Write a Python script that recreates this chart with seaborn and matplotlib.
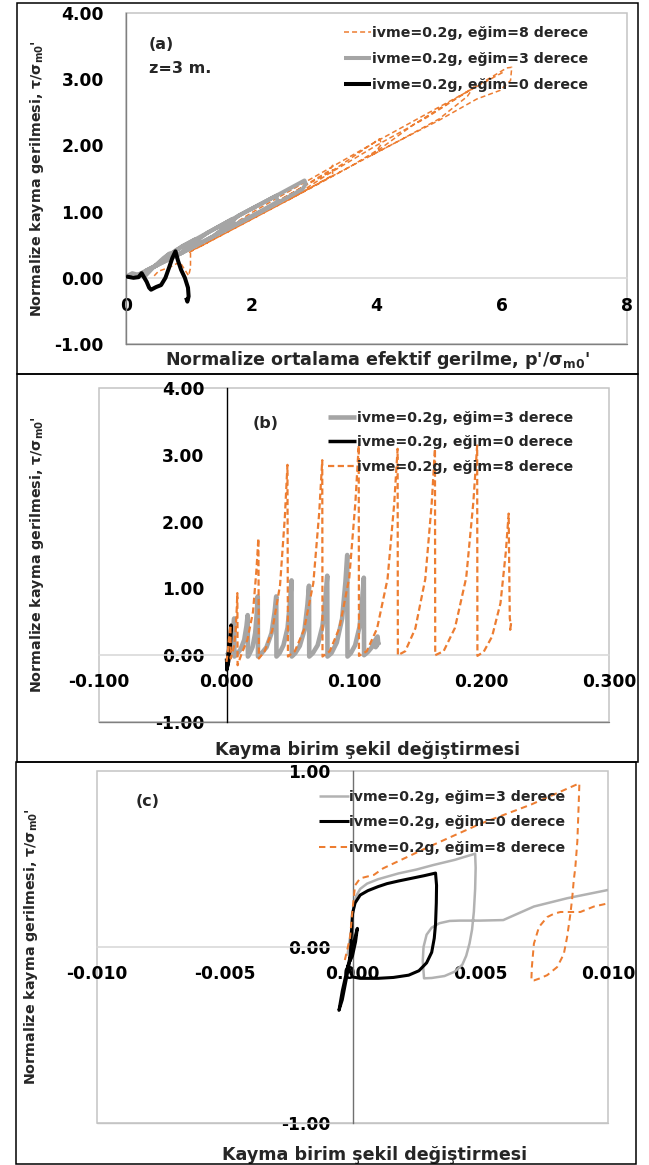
import numpy as np
import pandas as pd
import matplotlib
matplotlib.use('Agg')
import matplotlib.pyplot as plt
import seaborn as sns
from matplotlib.patches import Rectangle
from matplotlib.ticker import FormatStrFormatter

# ---------------- data ----------------
labels = {8: 'ivme=0.2g, eğim=8 derece', 3: 'ivme=0.2g, eğim=3 derece', 0: 'ivme=0.2g, eğim=0 derece'}

# panel (a): stress path  p'/sigma_m0'  vs  tau/sigma_m0'
a8_p = [0.45, 0.52, 0.70, 0.86, 0.94, 1.00, 1.03, 1.03, 1.40, 2.00, 2.60, 3.25, 3.30, 3.30, 3.00, 2.50, 2.00, 1.50, 1.20,
        1.60, 2.40, 3.30, 4.05, 4.08, 4.00, 3.60, 3.00, 2.60, 3.20, 4.00, 4.80, 5.50, 5.55, 5.45, 5.00, 4.40, 3.90,
        4.60, 5.30, 6.08, 6.16, 6.14, 5.97, 5.60, 5.00, 4.40, 3.80, 3.20, 2.60, 2.00, 1.50, 1.10, 1.00,
        2.00, 3.00, 4.00, 5.00, 6.05]
a8_t = [0.03, 0.10, 0.16, 0.24, 0.12, 0.03, 0.15, 0.40, 0.60, 0.92, 1.25, 1.62, 1.70, 1.55, 1.39, 1.13, 0.88, 0.63, 0.48,
        0.72, 1.15, 1.62, 2.10, 2.02, 1.92, 1.69, 1.38, 1.18, 1.55, 2.00, 2.42, 2.84, 2.88, 2.74, 2.40, 2.09, 1.84,
        2.32, 2.73, 3.17, 3.18, 2.98, 2.83, 2.70, 2.38, 2.09, 1.79, 1.49, 1.18, 0.88, 0.63, 0.43, 0.38,
        0.98, 1.52, 2.06, 2.58, 3.12]
a3_p = [0.00, 0.10, 0.30, 0.45, 0.60, 0.70, 0.50, 0.30, 0.20, 0.50, 0.90, 1.10, 1.12, 0.90, 0.60, 0.45, 0.80, 1.30,
        1.70, 1.72, 1.40, 1.00, 0.85, 1.30, 1.90, 2.40, 2.42, 2.10, 1.70, 1.40, 1.80, 2.40, 2.85, 2.87, 2.82, 2.40,
        1.90, 1.40, 0.90, 0.50, 0.30]
a3_t = [0.02, 0.07, 0.02, 0.17, 0.30, 0.37, 0.19, 0.09, 0.05, 0.20, 0.48, 0.58, 0.52, 0.38, 0.24, 0.17, 0.42, 0.68,
        0.89, 0.84, 0.63, 0.43, 0.36, 0.68, 0.99, 1.24, 1.15, 0.98, 0.78, 0.63, 0.94, 1.24, 1.47, 1.42, 1.34, 1.12,
        0.87, 0.63, 0.38, 0.19, 0.10]
a0_p = [0.00, 0.12, 0.20, 0.25, 0.28, 0.33, 0.37, 0.40, 0.48, 0.56, 0.63, 0.69, 0.74, 0.79, 0.83, 0.88, 0.94, 0.99,
        1.00, 0.98, 0.96]
a0_t = [0.02, 0.00, 0.01, 0.07, 0.02, -0.06, -0.15, -0.18, -0.14, -0.11, 0.00, 0.16, 0.30, 0.40, 0.26, 0.12, 0.00,
        -0.15, -0.28, -0.36, -0.30]

# panel (b): shear strain vs tau/sigma_m0'
b3_g = [0.0000, 0.0012, 0.0028, 0.0044, 0.0055, 0.0060, 0.0061, 0.0062,
        0.0083, 0.0111, 0.0139, 0.0157, 0.0166, 0.0167, 0.0168,
        0.0183, 0.0204, 0.0225, 0.0238, 0.0245, 0.0246, 0.0247,
        0.0276, 0.0314, 0.0353, 0.0377, 0.0390, 0.0391, 0.0392,
        0.0416, 0.0447, 0.0479, 0.0499, 0.0510, 0.0511, 0.0512,
        0.0539, 0.0575, 0.0612, 0.0635, 0.0647, 0.0648, 0.0649,
        0.0677, 0.0715, 0.0753, 0.0777, 0.0790, 0.0791, 0.0792,
        0.0823, 0.0865, 0.0907, 0.0933, 0.0947, 0.0948, 0.0949,
        0.0975, 0.1009, 0.1044, 0.1065, 0.1077, 0.1078, 0.1079,
        0.1110, 0.1140, 0.1165, 0.1185, 0.1190, 0.1170, 0.1185, 0.1195]
b3_t = [0.00, 0.02, 0.08, 0.22, 0.42, 0.55, 0.25, -0.02,
        0.02, 0.09, 0.23, 0.44, 0.60, 0.30, -0.02,
        0.03, 0.12, 0.33, 0.64, 0.88, 0.40, -0.02,
        0.03, 0.12, 0.33, 0.64, 0.88, 0.40, -0.02,
        0.03, 0.15, 0.41, 0.82, 1.12, 0.50, -0.02,
        0.03, 0.14, 0.38, 0.76, 1.04, 0.50, -0.02,
        0.03, 0.15, 0.44, 0.87, 1.19, 0.55, -0.02,
        0.03, 0.19, 0.55, 1.10, 1.50, 0.70, -0.02,
        0.03, 0.15, 0.43, 0.85, 1.16, 0.50, 0.00,
        0.05, 0.12, 0.22, 0.28, 0.18, 0.12, 0.20, 0.15]
b0_g = [0.0000, 0.0005, 0.0012, 0.0020, 0.0028, 0.0034, 0.0036, 0.0033, 0.0026, 0.0016, 0.0006, 0.0002, 0.0008, 0.0018]
b0_t = [-0.05, -0.20, -0.10, 0.08, 0.28, 0.42, 0.45, 0.25, 0.05, -0.10, -0.18, -0.22, -0.08, 0.10]
b8_g = [0.0000, 0.0010, 0.0020, 0.0030, 0.0032, 0.0033,
        0.0043, 0.0057, 0.0071, 0.0080, 0.0085, 0.0086, 0.0087,
        0.0120, 0.0164, 0.0208, 0.0235, 0.0250, 0.0252, 0.0254,
        0.0299, 0.0359, 0.0420, 0.0458, 0.0478, 0.0480, 0.0482,
        0.0536, 0.0608, 0.0681, 0.0727, 0.0751, 0.0752, 0.0753,
        0.0810, 0.0886, 0.0963, 0.1011, 0.1037, 0.1038, 0.1039,
        0.1100, 0.1181, 0.1263, 0.1315, 0.1342, 0.1343, 0.1344,
        0.1402, 0.1481, 0.1559, 0.1609, 0.1635, 0.1636, 0.1637,
        0.1703, 0.1792, 0.1880, 0.1936, 0.1966, 0.1967, 0.1968,
        0.2017, 0.2083, 0.2149, 0.2191, 0.2213, 0.2218, 0.2222, 0.2230, 0.2225, 0.2232]
b8_t = [-0.10, 0.05, 0.25, 0.45, 0.20, -0.05,
        0.02, 0.12, 0.34, 0.68, 0.93, 0.45, -0.15,
        0.03, 0.23, 0.65, 1.28, 1.75, 0.90, -0.05,
        0.06, 0.37, 1.05, 2.08, 2.85, 1.40, -0.02,
        0.06, 0.38, 1.08, 2.13, 2.92, 1.45, -0.02,
        0.06, 0.41, 1.16, 2.29, 3.14, 1.55, -0.01,
        0.06, 0.40, 1.14, 2.26, 3.09, 1.50, 0.00,
        0.06, 0.40, 1.14, 2.26, 3.09, 1.50, 0.00,
        0.06, 0.41, 1.16, 2.29, 3.14, 1.55, -0.01,
        0.05, 0.28, 0.78, 1.55, 2.12, 1.20, 0.55, 0.45, 0.38, 0.48]

# panel (c): zoom of (b)
c3_g = [-0.0002, 0.0000, 0.00005, 0.00013, 0.0003, 0.00057, 0.0010, 0.0018, 0.0025, 0.00317, 0.0040, 0.0048,
        0.00482, 0.0048, 0.00475, 0.00468, 0.00458, 0.00445, 0.0043, 0.0040, 0.0036, 0.0031, 0.0028,
        0.00275, 0.00278, 0.0029, 0.0031, 0.0034, 0.0038, 0.0042, 0.0050, 0.0059, 0.0071, 0.0084, 0.0100]
c3_t = [-0.05, 0.15, 0.22, 0.286, 0.33, 0.36, 0.385, 0.418, 0.44, 0.466, 0.495, 0.53,
        0.45, 0.33, 0.20, 0.10, 0.02, -0.05, -0.10, -0.14, -0.165, -0.176, -0.178,
        -0.08, 0.00, 0.07, 0.11, 0.135, 0.148, 0.15, 0.15, 0.153, 0.23, 0.277, 0.324]
c0_g = [0.0000, -0.0002, -0.0004, -0.00053, -0.0004, -0.0002, 0.0000, 0.00019, 0.00012, 0.0000, -0.0001, 0.0000,
        0.0001, 0.0003, 0.0006, 0.0010, 0.00135, 0.0018, 0.0023, 0.0028, 0.00325,
        0.00329, 0.00328, 0.00325, 0.0032, 0.0031, 0.0029, 0.0026, 0.0022, 0.0016, 0.0010, 0.0003,
        0.0000, -0.0002]
c0_t = [0.00, -0.12, -0.25, -0.36, -0.30, -0.15, 0.00, 0.106, 0.03, -0.05, -0.08, 0.19,
        0.25, 0.295, 0.32, 0.343, 0.36, 0.375, 0.39, 0.405, 0.42,
        0.35, 0.25, 0.13, 0.05, -0.03, -0.09, -0.135, -0.16, -0.173, -0.178, -0.178,
        -0.17, -0.10]
c8_g = [-0.0003, -0.0001, 0.0000, 0.0001, 0.0003, 0.00084, 0.0012, 0.0030, 0.0050, 0.0070, 0.00888,
        0.00885, 0.0088, 0.00872, 0.00866, 0.0086, 0.00853, 0.0084, 0.00827, 0.00801, 0.00762, 0.0073, 0.0071,
        0.00700, 0.00702, 0.0071, 0.0073, 0.00762, 0.0079, 0.00814, 0.00892, 0.00945, 0.0100]
c8_t = [-0.074, 0.05, 0.21, 0.35, 0.39, 0.41, 0.447, 0.57, 0.70, 0.81, 0.93,
        0.80, 0.60, 0.45, 0.38, 0.28, 0.19, 0.057, -0.04, -0.114, -0.16, -0.18, -0.19,
        -0.19, -0.114, 0.019, 0.114, 0.17, 0.19, 0.199, 0.199, 0.23, 0.248]

a_xticks = [0, 2, 4, 6, 8]
a_yticks = [-1, 0, 1, 2, 3, 4]
b_xticks = [-0.1, 0.0, 0.1, 0.2, 0.3]
b_yticks = [-1, 0, 1, 2, 3, 4]
c_xticks = [-0.010, -0.005, 0.0, 0.005, 0.010]
c_yticks = [-1, 0, 1]

# ---------------- style ----------------
sns.set_theme(style='white')
plt.rcParams['font.family'] = ['DejaVu Sans']
plt.rcParams['font.weight'] = 'bold'
plt.rcParams['mathtext.default'] = 'bf'
plt.rcParams['lines.scale_dashes'] = False

ORANGE = '#ED7D31'
GRAY = '#A5A5A5'
LGRAY = '#B2B2B2'
BLACK = '#000000'

W, H = 649, 1165
fig = plt.figure(figsize=(W / 100, H / 100), dpi=100)


def pax(l, t, r, b):
    return [l / W, 1 - b / H, (r - l) / W, (b - t) / H]


def draw(ax, x, y, color, lw, label, dashed=False, dash=(3.6, 2.2)):
    df = pd.DataFrame({'x': x, 'y': y})
    sns.lineplot(data=df, x='x', y='y', sort=False, estimator=None, color=color,
                 lw=lw, label=label, ax=ax)
    ln = ax.lines[-1]
    ln.set_solid_joinstyle('round')
    ln.set_solid_capstyle('butt')
    if dashed:
        ln.set_dashes(dash)


def style_axes(ax, xlim, ylim, xticks, yticks, xfmt, yaxis_color, xlabel, ylabel, xl_pos, yl_pos,
               border_bottom='#808080', xpad=13):
    ax.set_xlim(*xlim)
    ax.set_ylim(*ylim)
    ax.set_xticks(xticks)
    ax.set_yticks(yticks)
    ax.xaxis.set_major_formatter(FormatStrFormatter(xfmt))
    ax.yaxis.set_major_formatter(FormatStrFormatter('%.2f'))
    for s in ['top', 'right']:
        ax.spines[s].set_visible(False)
    ax.spines['left'].set_position(('data', 0))
    ax.spines['bottom'].set_position(('data', 0))
    ax.spines['left'].set_color(yaxis_color)
    ax.spines['left'].set_linewidth(1.0)
    ax.spines['bottom'].set_color('#d9d9d9')
    ax.spines['bottom'].set_linewidth(1.2)
    ax.spines['left'].set_zorder(1)
    ax.spines['bottom'].set_zorder(1)
    ax.add_patch(Rectangle((0, 0), 1, 1, transform=ax.transAxes, fill=False, ec='#c4c4c4', lw=1.1,
                           zorder=0.5, clip_on=False))
    ax.plot([0, 1], [0, 0], transform=ax.transAxes, color=border_bottom, lw=1.0, zorder=0.6, clip_on=False)
    ax.tick_params(axis='both', length=0, labelsize=12.3, colors='black')
    ax.tick_params(axis='x', pad=xpad)
    ax.tick_params(axis='y', pad=16)
    for t in ax.get_xticklabels() + ax.get_yticklabels():
        t.set_fontweight('bold')
    ax.set_xlabel(xlabel, fontsize=12.6, fontweight='bold', va='center')
    ax.set_ylabel(ylabel, fontsize=10.3, fontweight='bold', va='center')
    ax.xaxis.set_label_coords(*xl_pos)
    ax.yaxis.set_label_coords(*yl_pos)


def add_legend(ax, x_px, ytop_px, hl, spacing):
    h, l = ax.get_legend_handles_labels()
    ax.legend(h, l, loc='upper left', bbox_to_anchor=(x_px / W, 1 - ytop_px / H),
              bbox_transform=fig.transFigure, frameon=False, borderpad=0,
              borderaxespad=0, handlelength=hl, handletextpad=0.05, labelspacing=spacing,
              prop={'weight': 'bold', 'size': 10.2})


ylab = "Normalize kayma gerilmesi, τ/σ$_{\\mathbf{m0}}$'"

# ---------- panel (a) ----------
ax_a = fig.add_axes(pax(126, 13, 627, 344))
draw(ax_a, a8_p, a8_t, ORANGE, 1.1, labels[8], dashed=True)
draw(ax_a, a3_p, a3_t, GRAY, 2.9, labels[3])
draw(ax_a, a0_p, a0_t, BLACK, 2.9, labels[0])
style_axes(ax_a, (0, 8), (-1, 4), a_xticks, a_yticks, '%d', '#808080',
           "Normalize ortalama efektif gerilme, p'/σ$_{\\mathbf{m0}}$'", ylab,
           (0.501, -0.048), (-0.1786, 0.5), xpad=14)
add_legend(ax_a, 344, 26, 1.9, 0.83)
ax_a.text(0.046, 0.905, '(a)', transform=ax_a.transAxes, fontsize=11.5, fontweight='bold', va='center')
ax_a.text(0.046, 0.831, 'z=3 m.', transform=ax_a.transAxes, fontsize=11.5, fontweight='bold', va='center')

# ---------- panel (b) ----------
ax_b = fig.add_axes(pax(99, 388, 609, 722))
draw(ax_b, b3_g, b3_t, GRAY, 3.3, labels[3])
draw(ax_b, b0_g, b0_t, BLACK, 2.5, labels[0])
draw(ax_b, b8_g, b8_t, ORANGE, 1.6, labels[8], dashed=True, dash=(4.5, 2.5))
style_axes(ax_b, (-0.1, 0.3), (-1, 4), b_xticks, b_yticks, '%.3f', '#000000',
           'Kayma birim şekil değiştirmesi', ylab, (0.527, -0.0838), (-0.1225, 0.5))
add_legend(ax_b, 328, 411, 2.0, 0.73)
ax_b.text(0.302, 0.895, '(b)', transform=ax_b.transAxes, fontsize=11.5, fontweight='bold', va='center')

# ---------- panel (c) ----------
ax_c = fig.add_axes(pax(97, 771, 608, 1123))
draw(ax_c, c3_g, c3_t, LGRAY, 1.8, labels[3])
draw(ax_c, c0_g, c0_t, BLACK, 2.2, labels[0])
draw(ax_c, c8_g, c8_t, ORANGE, 1.45, labels[8], dashed=True, dash=(4.6, 3.2))
style_axes(ax_c, (-0.01, 0.01), (-1, 1), c_xticks, c_yticks, '%.3f', '#707070',
           'Kayma birim şekil değiştirmesi', ylab, (0.544, -0.0909), (-0.129, 0.5),
           border_bottom='#c4c4c4')
add_legend(ax_c, 319, 790, 2.1, 0.80)
ax_c.text(0.0763, 0.912, '(c)', transform=ax_c.transAxes, fontsize=11.5, fontweight='bold', va='center')

# ---------- panel frames ----------
for (l, t, r, b, lw) in [(17, 3, 638, 374, 1.1), (17, 374, 638, 762, 1.1), (16, 762, 636, 1164, 1.1)]:
    fig.add_artist(Rectangle((l / W, 1 - b / H), (r - l) / W, (b - t) / H, transform=fig.transFigure,
                             fill=False, ec='black', lw=lw))

fig.savefig('out.png', dpi=100)
